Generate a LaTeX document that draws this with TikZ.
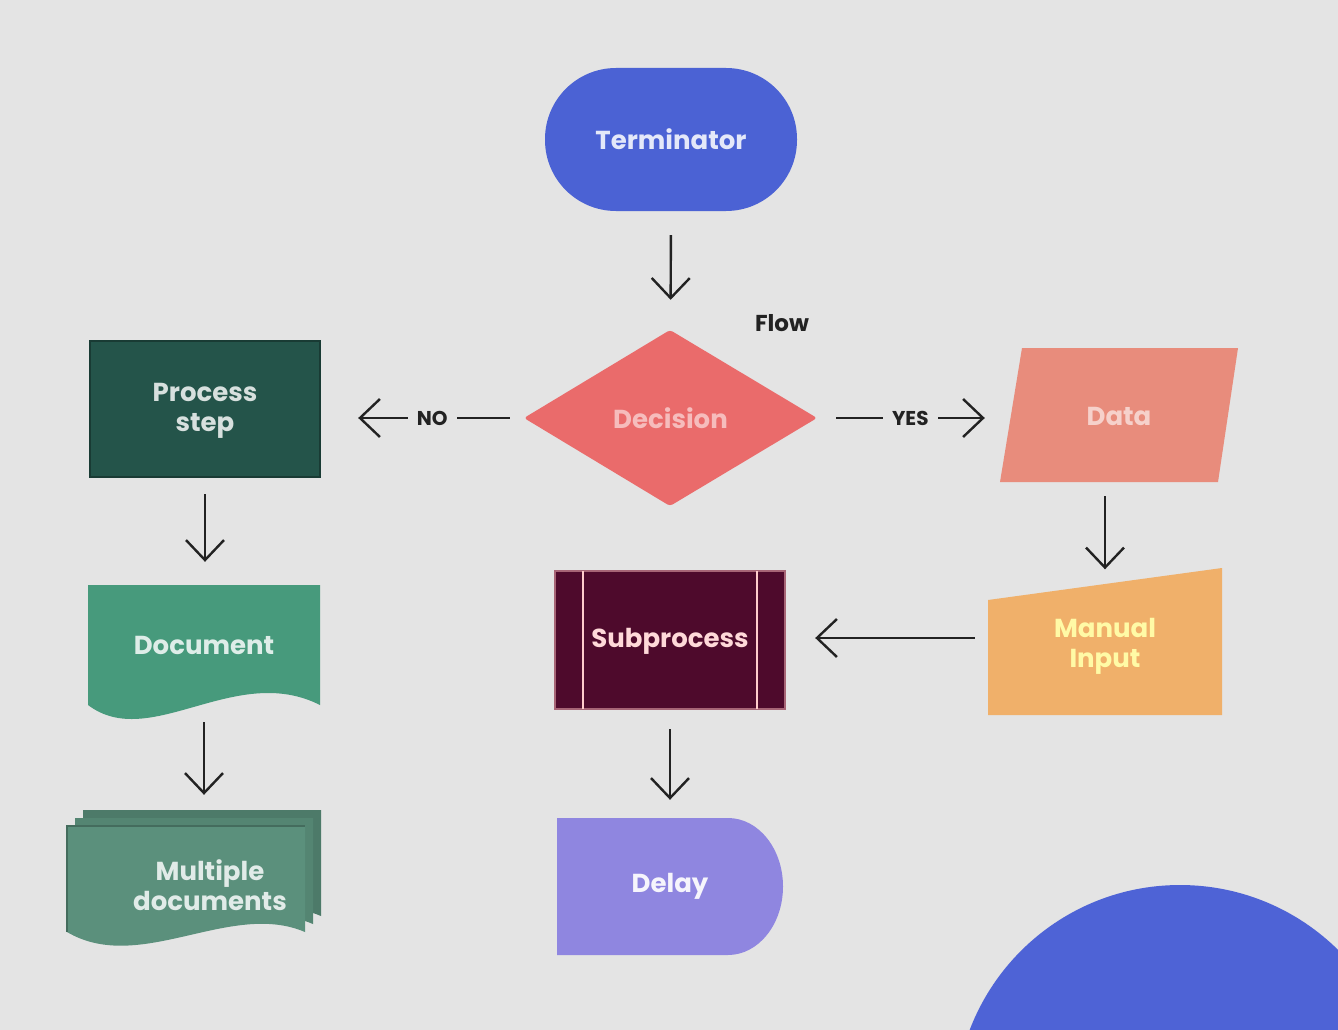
\documentclass[tikz,border=0pt]{standalone}
\usepackage{fontspec}
\setmainfont{Poppins}
\usetikzlibrary{arrows.meta}
\definecolor{bg}{HTML}{E4E4E4}
\definecolor{termc}{HTML}{4B62D4}
\definecolor{decc}{HTML}{EA6B6B}
\definecolor{procc}{HTML}{24544A}
\definecolor{docc}{HTML}{479A7C}
\definecolor{multic}{HTML}{5B907C}
\definecolor{datac}{HTML}{E88C7C}
\definecolor{manc}{HTML}{F0B06A}
\definecolor{subc}{HTML}{4E0A2C}
\definecolor{delc}{HTML}{8F86E0}
\definecolor{circc}{HTML}{4E63D6}
\definecolor{ink}{HTML}{222222}
\tikzset{
  lbl/.style={font=\bfseries\fontsize{26}{30}\selectfont, align=center, inner sep=0pt, draw=none},
  flow/.style={draw=ink, line width=2.4pt, -{Straight Barb[length=20pt,width=38pt,line width=2.4pt]}},
  tag/.style={font=\bfseries\fontsize{20}{24}\selectfont, text=ink, fill=bg, inner xsep=9pt, inner ysep=2pt},
}
\begin{document}
\begin{tikzpicture}[x=1pt,y=-1pt]
\fill[bg] (0,0) rectangle (1338,1030);
\useasboundingbox (0,0) rectangle (1338,1030);
\clip (0,0) rectangle (1338,1030);

% big circle at bottom right
\fill[circc] (1180,1110) circle (225pt);

% Terminator
\fill[termc, rounded corners=71pt] (545,68) rectangle (797,211);
\node[lbl, text=white!85!termc, minimum width=252pt, minimum height=143pt] (term) at (671,139.5) {Terminator};

% Decision
\fill[decc, rounded corners=3pt] (524,418) -- (670,330) -- (817,418) -- (670,506) -- cycle;
\node[lbl, text=decc!45!white, minimum width=293pt, minimum height=176pt] (dec) at (670.5,418) {Decision};

% Process step
\fill[procc] (90,341) rectangle (320,477);
\draw[procc!70!black, line width=2pt] (90,341) rectangle (320,477);
\node[lbl, text=white!82!procc, minimum width=230pt, minimum height=136pt] (proc) at (205,411) {Process\\step};

% Data
\fill[datac] (1022,348) -- (1238,348) -- (1218,482) -- (1000,482) -- cycle;
\node[lbl, text=datac!40!white, minimum width=238pt, minimum height=134pt] (data) at (1119,416) {Data};

% Document
\fill[docc] (88,585) -- (320,585) -- (320,705)
  .. controls (235,662) and (150,752) .. (88,705) -- cycle;
\node[lbl, text=white!82!docc, minimum width=232pt, minimum height=120pt] (doc) at (204,645) {Document};

% Multiple documents
\foreach \d/\c in {16/multic!85!black, 8/multic!92!black}{
  \fill[\c] (67+\d,826-\d) -- (305+\d,826-\d) -- (305+\d,932-\d)
    .. controls (230+\d,900-\d) and (140+\d,975-\d) .. (67+\d,932-\d) -- cycle;
}
\fill[multic] (67,826) -- (305,826) -- (305,932)
  .. controls (230,900) and (140,975) .. (67,932) -- cycle;
\draw[multic!75!black, line width=1.5pt] (67,932) -- (67,826) -- (305,826);
\node[lbl, text=white!82!multic, minimum width=232pt, minimum height=150pt] (multi) at (210,885) {Multiple\\documents};

% Subprocess
\fill[subc] (555,571) rectangle (785,709);
\draw[subc!50!pink, line width=1.2pt] (555,571) rectangle (785,709);
\draw[pink!80!white, line width=2pt] (583,571) -- (583,709) (757,571) -- (757,709);
\node[lbl, text=pink!60!white, minimum width=230pt, minimum height=138pt] (sub) at (670,641) {Subprocess};

% Manual input
\fill[manc] (988,600) -- (1222,568) -- (1222,715) -- (988,715) -- cycle;
\node[lbl, text=yellow!35!white, minimum width=234pt, minimum height=147pt] (man) at (1105,646) {Manual\\Input};

% Delay
\fill[delc] (557,818) -- (728,818) arc[start angle=90, end angle=-90, x radius=55pt, y radius=68.5pt] -- (557,955) -- cycle;
\node[lbl, text=white!92!delc, minimum width=226pt, minimum height=137pt] (delay) at (670,886.5) {Delay};

% Connectors
\draw[flow, shorten <=24pt, shorten >=30pt] (term.south) -- (dec.north);
\node[font=\bfseries\fontsize{23}{27}\selectfont, text=ink] (flowlbl) at (782,323) {Flow};
\draw[flow, shorten <=14pt, shorten >=38pt] (dec.west) -- (dec.west -| proc.east)
  node[tag, pos=0.45] (no) {NO};
\draw[flow, shorten <=19pt, shorten >=15pt] (dec.east) -- (dec.east -| data.west)
  node[tag, pos=0.51] (yes) {YES};
\draw[flow, shorten <=15pt, shorten >=23pt] (proc.south) -- (proc.south |- doc.north);
\draw[flow, shorten <=17pt, shorten >=15pt] (doc.south) -- (doc.south |- multi.north);
\draw[flow, shorten <=13pt, shorten >=3pt] (man.north |- data.south) -- (man.north);
\draw[flow, shorten <=13pt, shorten >=30pt] ([yshift=8pt]man.west) -- ([yshift=8pt]man.west -| sub.east);
\draw[flow, shorten <=19pt, shorten >=18pt] (sub.south) -- (delay.north);
\end{tikzpicture}
\end{document}
